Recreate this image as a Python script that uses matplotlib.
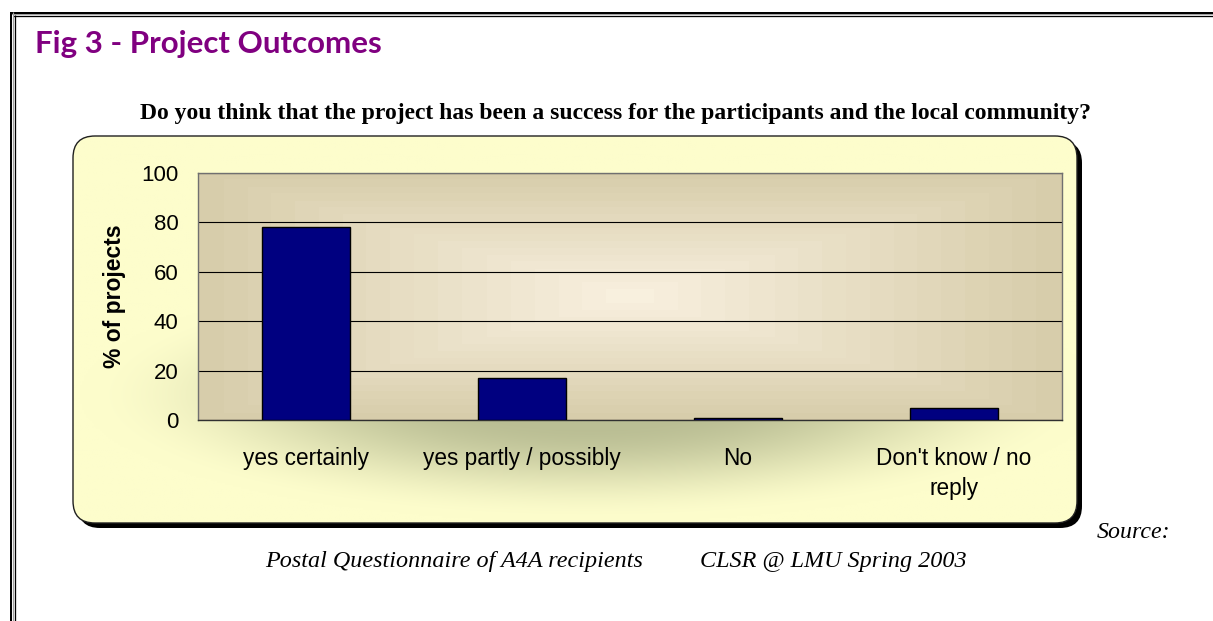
import numpy as np
import matplotlib
matplotlib.use("Agg")
import matplotlib.pyplot as plt
from matplotlib.patches import FancyBboxPatch

# ---- data ----
categories = ["yes certainly", "yes partly / possibly", "No", "Don't know / no\nreply"]
values = [78, 17, 1, 5]
yticks = [0, 20, 40, 60, 80, 100]
title = "Fig 3 - Project Outcomes"
question = "Do you think that the project has been a success for the participants and the local community?"
ylabel = "% of projects"

W, H = 1213, 621
fig = plt.figure(figsize=(W / 100, H / 100), dpi=100)
fig.patch.set_facecolor("white")

bg = fig.add_axes([0, 0, 1, 1])
bg.set_xlim(0, W)
bg.set_ylim(H, 0)
bg.axis("off")

# page double border (top and left)
px = 0.72
bg.plot([11, W], [13, 13], color="black", lw=2 * px, solid_capstyle="butt")
bg.plot([13, W], [15.5, 15.5], color="black", lw=1.3 * px, solid_capstyle="butt")
bg.plot([11, W], [14.3, 14.3], color="#a0a0a0", lw=1 * px, solid_capstyle="butt")
bg.plot([11, 11], [12, H], color="black", lw=2 * px, solid_capstyle="butt")
bg.plot([15.3, 15.3], [15, H], color="black", lw=1.3 * px, solid_capstyle="butt")
bg.plot([13, 13], [12, H], color="#a0a0a0", lw=1.2 * px, solid_capstyle="butt")

# title texts
bg.text(35, 44, title, color="#800080", fontsize=22.5, fontweight="bold",
        family="Lato", va="center", ha="left")
bg.text(615, 113, question, fontsize=17, fontweight="bold",
        family="Liberation Serif", va="center", ha="center")

# chart box with shadow
bx0, by0, bx1, by1 = 73, 136, 1077, 523
r = 22
shadow = FancyBboxPatch((bx0 + 5, by0 + 5), bx1 - bx0, by1 - by0,
                        boxstyle=f"round,pad=0,rounding_size={r}",
                        facecolor="black", edgecolor="black", lw=0, zorder=1)
bg.add_patch(shadow)
box = FancyBboxPatch((bx0, by0), bx1 - bx0, by1 - by0,
                     boxstyle=f"round,pad=0,rounding_size={r}",
                     facecolor="#FAFAC8", edgecolor="none", lw=0, zorder=2)
bg.add_patch(box)
# gradient for the box
gx = np.linspace(bx0, bx1, 500)
gy = np.linspace(by0, by1, 200)
GX, GY = np.meshgrid(gx, gy)
cx, cy = 590, 395
d = np.sqrt(((GX - cx) / 600) ** 2 + ((GY - cy) / 150) ** 2)
t = np.clip((d - 0.2) / 0.65, 0, 1)
t = t * t * (3 - 2 * t)
c0 = np.array([186, 190, 148]) / 255
c1 = np.array([253, 253, 204]) / 255
img = c0[None, None, :] * (1 - t[..., None]) + c1[None, None, :] * t[..., None]
im = bg.imshow(img, extent=(bx0, bx1, by1, by0), origin="upper", zorder=3,
               aspect="auto", interpolation="bilinear")
im.set_clip_path(box)
outline = FancyBboxPatch((bx0, by0), bx1 - bx0, by1 - by0,
                         boxstyle=f"round,pad=0,rounding_size={r}",
                         facecolor="none", edgecolor="#202020", lw=1.0, zorder=4)
bg.add_patch(outline)

# source texts
bg.text(1097, 533, "Source:", fontsize=17.2, style="italic", family="Liberation Serif",
        va="center", ha="left")
bg.text(265, 561, "Postal Questionnaire of A4A recipients", fontsize=17.4, style="italic",
        family="Liberation Serif", va="center", ha="left")
bg.text(700, 561, "CLSR @ LMU Spring 2003", fontsize=17.4, style="italic",
        family="Liberation Serif", va="center", ha="left")

# plot area
pl, pr, pt, pb = 198.3, 1061.7, 172.7, 420.0
ax = fig.add_axes([pl / W, (H - pb) / H, (pr - pl) / W, (pb - pt) / H])
ax.set_zorder(5)
n = len(categories)
ax.set_xlim(0, n)
ax.set_ylim(0, 100)

# banded rectangular gradient inside plot area
nx, ny = 400, 200
ux = np.linspace(-1, 1, nx)
uy = np.linspace(-1, 1, ny)
UX, UY = np.meshgrid(ux, uy)
dd = np.maximum(np.abs(UX), np.abs(UY))
dd = np.floor(dd * 18) / 18
e0 = np.array([248, 240, 222]) / 255
e1 = np.array([214, 203, 168]) / 255
pimg = e0[None, None, :] * (1 - dd[..., None]) + e1[None, None, :] * dd[..., None]
ax.imshow(pimg, extent=(0, n, 0, 100), aspect="auto", zorder=0, interpolation="nearest")

ax.set_axisbelow(True)
ax.yaxis.grid(True, color="black", lw=0.8)
x = np.arange(n) + 0.5
ax.bar(x, values, width=0.41, color="#000080", edgecolor="black", lw=1.0, zorder=3)

ax.set_yticks(yticks)
ax.set_xticks(x)
ax.set_xticklabels(categories, family="Liberation Sans", fontsize=16.3, linespacing=1.38)
ax.set_yticklabels([str(v) for v in yticks], family="Liberation Sans", fontsize=16)
ax.tick_params(axis="y", length=0, pad=14.4)
ax.tick_params(axis="x", length=0, pad=19.5)
for s in ["top", "right", "left"]:
    ax.spines[s].set_color("#707070")
    ax.spines[s].set_linewidth(1.0)
ax.spines["bottom"].set_color("#303030")
ax.spines["bottom"].set_linewidth(1.0)
ax.set_ylabel(ylabel, family="Liberation Sans", fontsize=16.5, fontweight="bold", labelpad=0)
ax.yaxis.set_label_coords((126 - pl) / (pr - pl), (pb - 296) / (pb - pt))

fig.savefig("out.png", dpi=100)
